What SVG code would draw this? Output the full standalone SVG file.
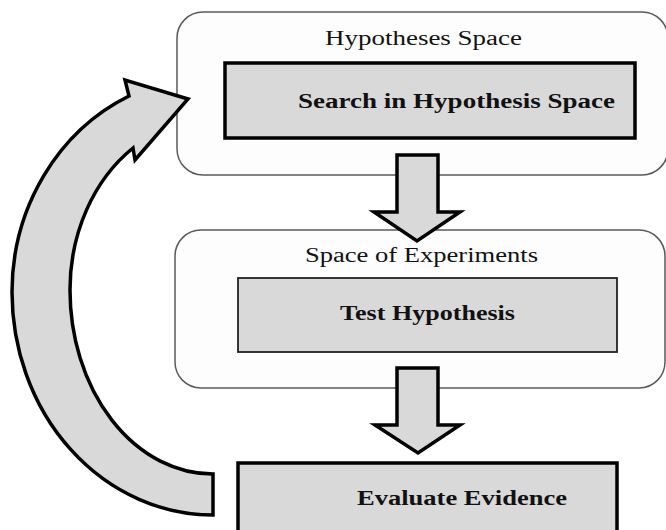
<svg xmlns="http://www.w3.org/2000/svg" width="666" height="530" viewBox="0 0 666 530">
  <style>
    .space { fill: #fdfdfd; stroke: #5a5a5a; stroke-width: 1.5; }
    .box { fill: #d9d9d9; stroke: #000; }
    .thick { stroke-width: 3.5; }
    .thin { stroke-width: 1.8; stroke: #222; }
    .arrow { fill: #d9d9d9; stroke: #000; stroke-width: 3.5; stroke-linejoin: miter; }
    .title { font-family: "Liberation Serif", "Times New Roman", serif; font-size: 20px; fill: #111; }
    .label { font-family: "Liberation Serif", "Times New Roman", serif; font-size: 20px; font-weight: bold; fill: #111; }
  </style>
  <rect width="666" height="530" fill="#fff"/>

  <g id="hypotheses-space">
    <rect class="space" x="177" y="12" width="491" height="163" rx="26" ry="26"/>
    <text class="title" x="325" y="45" textLength="197" lengthAdjust="spacingAndGlyphs">Hypotheses Space</text>
  </g>

  <g id="search">
    <rect class="box thick" x="225" y="63" width="410" height="75"/>
    <text class="label" x="298" y="108" textLength="317" lengthAdjust="spacingAndGlyphs">Search in Hypothesis Space</text>
  </g>

  <g id="experiments-space">
    <rect class="space" x="175" y="230" width="490" height="158" rx="26" ry="26"/>
    <text class="title" x="305" y="262" textLength="233" lengthAdjust="spacingAndGlyphs">Space of Experiments</text>
  </g>

  <g id="test">
    <rect class="box thin" x="238" y="278" width="379" height="74"/>
    <text class="label" x="340" y="320" textLength="175" lengthAdjust="spacingAndGlyphs">Test Hypothesis</text>
  </g>

  <g id="evaluate">
    <rect class="box thick" x="238" y="463" width="379" height="80"/>
    <text class="label" x="357" y="505" textLength="210" lengthAdjust="spacingAndGlyphs">Evaluate Evidence</text>
  </g>

  <g id="connectors">
    <!-- search -> test -->
    <path class="arrow" d="M397,155 H438 V212 H460 L417,241 L374,212 H397 Z"/>
    <!-- test -> evaluate -->
    <path class="arrow" d="M397,368 H438 V425 H460 L418,453 L375,425 H397 Z"/>
    <!-- feedback loop: evaluate -> search -->
    <path class="arrow" d="M213,515 A201,223 0 0 1 12,292 A201,216 0 0 1 129,96 L125,80 L188,99 L135,160 L133,148 A143,171 0 0 0 70,290 A143,184 0 0 0 213,474 Z"/>
  </g>
</svg>
